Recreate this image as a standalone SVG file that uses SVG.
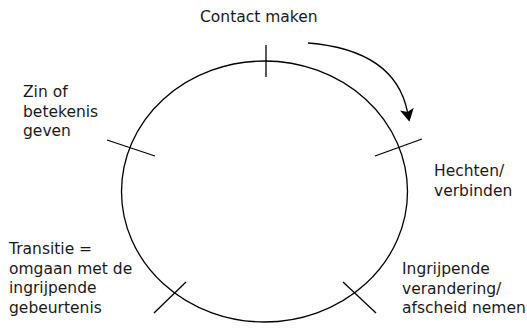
<svg xmlns="http://www.w3.org/2000/svg" width="527" height="329" viewBox="0 0 527 329">
<defs>
<style>
text{font-family:"DejaVu Sans",Verdana,sans-serif;font-size:15.5px;fill:#1a1a1a}
.ln{stroke:#000;stroke-width:1.3;fill:none}
</style>
<marker id="ah" viewBox="0 -7 13 14" refX="3" refY="0" markerWidth="13" markerHeight="14" markerUnits="userSpaceOnUse" orient="auto"><path d="M0,-7L13,0L0,7L3,0z" fill="#000"/></marker>
</defs>
<g id="cycle"><ellipse class="ln" cx="264.5" cy="191.5" rx="143" ry="130.5"/></g>
<g id="connectors">
<path class="ln" d="M308,43 Q395,50 407.5,112" marker-end="url(#ah)"/>
</g>
<g id="contact"><line class="ln" x1="266" y1="45" x2="266" y2="77"/><text x="200" y="22">Contact maken</text></g>
<g id="hechten"><line class="ln" x1="375" y1="156" x2="422" y2="139"/><text x="434" y="176">Hechten/</text><text x="434" y="195.5">verbinden</text></g>
<g id="ingrijpende"><line class="ln" x1="343" y1="282" x2="376" y2="313"/><text x="402" y="274">Ingrijpende</text><text x="402" y="293.5">verandering/</text><text x="402" y="313">afscheid nemen</text></g>
<g id="transitie"><line class="ln" x1="154" y1="313" x2="186" y2="282"/><text x="9" y="254">Transitie =</text><text x="9" y="273.5">omgaan met de</text><text x="9" y="293">ingrijpende</text><text x="9" y="312.5">gebeurtenis</text></g>
<g id="zin"><line class="ln" x1="107" y1="140" x2="155" y2="156"/><text x="23" y="97">Zin of</text><text x="23" y="116.5">betekenis</text><text x="23" y="136">geven</text></g>
</svg>
